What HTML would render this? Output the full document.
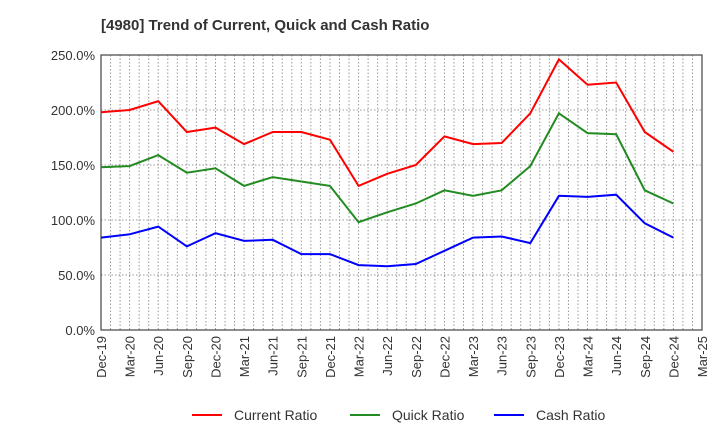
<!DOCTYPE html>
<html><head><meta charset="utf-8"><style>
body{margin:0;background:#fff;font-family:"Liberation Sans",sans-serif}
</style></head><body>
<svg id="c" width="720" height="440" xmlns="http://www.w3.org/2000/svg" font-family="Liberation Sans, sans-serif">
<text x="101" y="30" font-size="15" font-weight="bold" fill="#333">[4980]  Trend of Current, Quick and Cash Ratio</text>
<g id="grid"></g><g id="axes"></g><g id="series"></g>
<g font-size="14" fill="#333">
<line x1="192" y1="415" x2="222" y2="415" stroke="#ff0000" stroke-width="2"/><text x="234" y="420">Current Ratio</text>
<line x1="350" y1="415" x2="380" y2="415" stroke="#228b22" stroke-width="2"/><text x="392" y="420">Quick Ratio</text>
<line x1="494" y1="415" x2="524" y2="415" stroke="#0000ff" stroke-width="2"/><text x="536" y="420">Cash Ratio</text>
</g>
</svg>
<script>
const xLabels=["Dec-19","Mar-20","Jun-20","Sep-20","Dec-20","Mar-21","Jun-21","Sep-21","Dec-21","Mar-22","Jun-22","Sep-22","Dec-22","Mar-23","Jun-23","Sep-23","Dec-23","Mar-24","Jun-24","Sep-24","Dec-24","Mar-25"];
const yTicks=[0,50,100,150,200,250];
const current=[198,200,208,180,184,169,180,180,173,131,142,150,176,169,170,197,246,223,225,180,162];
const quick=[148,149,159,143,147,131,139,135,131,98,107,115,127,122,127,149,197,179,178,127,115];
const cash=[84,87,94,76,88,81,82,69,69,59,58,60,72,84,85,79,122,121,123,97,84];
const L=101,R=702,T=55,B=330,NS="http://www.w3.org/2000/svg";
const qx=i=>L+(R-L)*i/(xLabels.length-1);
const mx=m=>L+(R-L)*m/((xLabels.length-1)*3);
const y=v=>B-(B-T)*v/250;
function mk(p,t,a){const e=document.createElementNS(NS,t);for(const k in a)e.setAttribute(k,a[k]);p.appendChild(e);return e;}
const g=document.getElementById('grid'),ax=document.getElementById('axes'),s=document.getElementById('series');
for(let m=1;m<(xLabels.length-1)*3;m++){const l=mk(g,'line',{x1:mx(m),x2:mx(m),y1:T,y2:B,stroke:'#999','stroke-dasharray':'1.5,2','stroke-width':1});

}
yTicks.forEach(v=>{const l=mk(g,'line',{x1:L,x2:R,y1:y(v),y2:y(v),stroke:'#999','stroke-dasharray':'1.5,2'});


const t=mk(ax,'text',{x:L-6,y:y(v)+5,'text-anchor':'end','font-size':13,fill:'#333'});t.textContent=v.toFixed(1)+'%';

});
const fr=mk(ax,'rect',{x:L,y:T,width:R-L,height:B-T,fill:'none',stroke:'#444','stroke-width':1.2});


xLabels.forEach((lb,i)=>{const t=mk(ax,'text',{transform:`translate(${qx(i)+5},${B+6}) rotate(-90)`,'text-anchor':'end','font-size':13,fill:'#333'});t.textContent=lb;

});
[[current,'#ff0000','current-ratio-line'],[quick,'#228b22','quick-ratio-line'],[cash,'#0000ff','cash-ratio-line']].forEach(([d,c,n])=>{
const p=mk(s,'polyline',{points:d.map((v,i)=>qx(i)+','+y(v)).join(' '),fill:'none',stroke:c,'stroke-width':2});

});
</script>
</body></html>
